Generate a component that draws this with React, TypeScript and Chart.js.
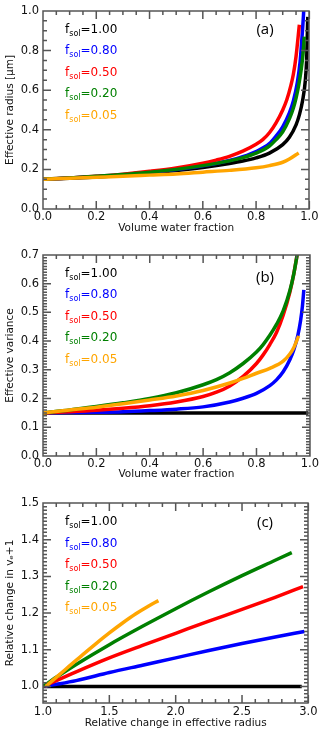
import React, { useEffect, useRef } from "react";
import { Chart, registerables } from "chart.js";

Chart.register(...registerables);

// ---------------- shared legend ----------------
const fsolLabels = ["1.00", "0.80", "0.50", "0.20", "0.05"];
const fsolColors = ["#000000", "#0000ff", "#ff0000", "#008000", "#ffa500"];

// ---------------- panel (a): effective radius vs volume water fraction ----------------
const aWater100 = [0, 0.1, 0.2, 0.3, 0.4, 0.5, 0.6, 0.7, 0.75, 0.8, 0.85, 0.9, 0.925, 0.95, 0.9625, 0.975, 0.985, 0.99, 0.994];
const aReff100 = [0.150, 0.155, 0.161, 0.170, 0.181, 0.194, 0.210, 0.230, 0.242, 0.258, 0.282, 0.325, 0.362, 0.425, 0.475, 0.55, 0.65, 0.76, 0.97];
const aWater080 = [0, 0.1, 0.2, 0.3, 0.4, 0.5, 0.6, 0.7, 0.75, 0.8, 0.85, 0.875, 0.9, 0.925, 0.94, 0.955, 0.965, 0.972, 0.978, 0.981];
const aReff080 = [0.150, 0.156, 0.164, 0.173, 0.185, 0.199, 0.218, 0.245, 0.264, 0.290, 0.330, 0.368, 0.415, 0.485, 0.545, 0.64, 0.74, 0.86, 0.98, 1.06];
const aWater050 = [0, 0.1, 0.2, 0.3, 0.4, 0.5, 0.6, 0.65, 0.7, 0.75, 0.8, 0.825, 0.85, 0.875, 0.9, 0.915, 0.93, 0.94, 0.95, 0.9625];
const aReff050 = [0.150, 0.157, 0.165, 0.176, 0.190, 0.207, 0.231, 0.247, 0.266, 0.292, 0.327, 0.350, 0.385, 0.435, 0.500, 0.550, 0.620, 0.680, 0.770, 0.930];
const aWater020 = [0, 0.1, 0.2, 0.3, 0.4, 0.5, 0.6, 0.7, 0.75, 0.8, 0.85, 0.875, 0.9, 0.925, 0.94, 0.95, 0.96, 0.97, 0.976, 0.981];
const aReff020 = [0.150, 0.157, 0.165, 0.174, 0.186, 0.200, 0.219, 0.243, 0.259, 0.282, 0.318, 0.350, 0.390, 0.455, 0.510, 0.560, 0.625, 0.710, 0.780, 0.870];
const aWater005 = [0, 0.1, 0.2, 0.3, 0.4, 0.5, 0.6, 0.7, 0.8, 0.85, 0.9, 0.925, 0.96];
const aReff005 = [0.150, 0.155, 0.160, 0.165, 0.171, 0.177, 0.186, 0.195, 0.208, 0.219, 0.236, 0.252, 0.283];
const aXTicks = [0, 0.2, 0.4, 0.6, 0.8, 1.0];
const aYTicks = [0, 0.2, 0.4, 0.6, 0.8, 1.0];

// ---------------- panel (b): effective variance vs volume water fraction ----------------
const bWater100 = [0, 0.25, 0.5, 0.75, 0.995];
const bVar100 = [0.15, 0.15, 0.15, 0.15, 0.15];
const bWater080 = [0, 0.1, 0.2, 0.3, 0.4, 0.5, 0.6, 0.7, 0.75, 0.8, 0.85, 0.875, 0.9, 0.925, 0.94, 0.955, 0.965, 0.972, 0.9775];
const bVar080 = [0.150, 0.151, 0.152, 0.154, 0.158, 0.163, 0.171, 0.188, 0.201, 0.218, 0.245, 0.265, 0.293, 0.335, 0.370, 0.420, 0.470, 0.520, 0.578];
const bWater050 = [0, 0.1, 0.2, 0.3, 0.4, 0.5, 0.6, 0.65, 0.7, 0.75, 0.8, 0.825, 0.85, 0.875, 0.9, 0.925, 0.94, 0.955];
const bVar050 = [0.150, 0.154, 0.159, 0.166, 0.175, 0.188, 0.207, 0.222, 0.244, 0.277, 0.322, 0.352, 0.388, 0.430, 0.490, 0.570, 0.635, 0.715];
const bWater020 = [0, 0.1, 0.2, 0.3, 0.4, 0.5, 0.6, 0.65, 0.7, 0.75, 0.8, 0.825, 0.85, 0.875, 0.9, 0.925, 0.94, 0.955];
const bVar020 = [0.150, 0.160, 0.172, 0.185, 0.200, 0.220, 0.248, 0.266, 0.290, 0.322, 0.362, 0.388, 0.420, 0.458, 0.505, 0.575, 0.635, 0.715];
const bWater005 = [0, 0.1, 0.2, 0.3, 0.4, 0.5, 0.6, 0.7, 0.75, 0.8, 0.85, 0.9, 0.925, 0.94, 0.958];
const bVar005 = [0.150, 0.160, 0.170, 0.182, 0.195, 0.209, 0.228, 0.254, 0.270, 0.288, 0.305, 0.330, 0.355, 0.378, 0.418];
const bXTicks = [0, 0.2, 0.4, 0.6, 0.8, 1.0];
const bYTicks = [0, 0.1, 0.2, 0.3, 0.4, 0.5, 0.6, 0.7];

// ---------------- panel (c): relative change in ve+1 vs relative change in reff ----------------
const cRad100 = [1.0, 2.0, 2.95];
const cVe100 = [1.0, 1.0, 1.0];
const cRad080 = [1.0, 1.1, 1.25, 1.5, 1.75, 2.0, 2.25, 2.5, 2.75, 2.97];
const cVe080 = [1.0, 1.006, 1.016, 1.038, 1.058, 1.078, 1.098, 1.117, 1.135, 1.150];
const cRad050 = [1.0, 1.25, 1.5, 1.75, 2.0, 2.25, 2.5, 2.75, 2.96];
const cVe050 = [1.0, 1.040, 1.078, 1.112, 1.145, 1.178, 1.210, 1.243, 1.272];
const cRad020 = [1.0, 1.1, 1.25, 1.5, 1.75, 2.0, 2.25, 2.5, 2.75, 2.875];
const cVe020 = [1.0, 1.025, 1.060, 1.114, 1.164, 1.212, 1.258, 1.302, 1.344, 1.365];
const cRad005 = [1.02, 1.1, 1.2, 1.3, 1.4, 1.5, 1.6, 1.7, 1.8, 1.87];
const cVe005 = [1.0, 1.025, 1.056, 1.087, 1.117, 1.146, 1.173, 1.198, 1.220, 1.234];
const cXTicks = [1.0, 1.5, 2.0, 2.5, 3.0];
const cYTicks = [1.0, 1.1, 1.2, 1.3, 1.4, 1.5];

type PanelCfg = {
  xs: number[][];
  ys: number[][];
  xMin: number; xMax: number; yMin: number; yMax: number;
  xTicks: number[]; yTicks: number[];
  xMinor: number; yMinor: number;
  xTitle: string; yTitle: string; tag: string;
  plotTop: number; plotBottom: number;
  xTitlePad: number; xTickPad: number; tagY: number;
};

const panels: PanelCfg[] = [
  {
    xs: [aWater100, aWater080, aWater050, aWater020, aWater005],
    ys: [aReff100, aReff080, aReff050, aReff020, aReff005],
    xMin: 0, xMax: 1, yMin: 0, yMax: 1,
    xTicks: aXTicks, yTicks: aYTicks, xMinor: 0.05, yMinor: 0.05,
    xTitle: "Volume water fraction", yTitle: "Effective radius [μm]", tag: "(a)",
    plotTop: 7, plotBottom: 209, xTitlePad: 9.5, xTickPad: 1.5, tagY: 30,
  },
  {
    xs: [bWater100, bWater080, bWater050, bWater020, bWater005],
    ys: [bVar100, bVar080, bVar050, bVar020, bVar005],
    xMin: 0, xMax: 1, yMin: 0, yMax: 0.7,
    xTicks: bXTicks, yTicks: bYTicks, xMinor: 0.05, yMinor: 0.01,
    xTitle: "Volume water fraction", yTitle: "Effective variance", tag: "(b)",
    plotTop: 10, plotBottom: 212, xTitlePad: 7.5, xTickPad: 1, tagY: 34,
  },
  {
    xs: [cRad100, cRad080, cRad050, cRad020, cRad005],
    ys: [cVe100, cVe080, cVe050, cVe020, cVe005],
    xMin: 1, xMax: 3, yMin: 0.955, yMax: 1.5,
    xTicks: cXTicks, yTicks: cYTicks, xMinor: 0.1, yMinor: 0.01,
    xTitle: "Relative change in effective radius", yTitle: "Relative change in vₑ+1", tag: "(c)",
    plotTop: 15, plotBottom: 215, xTitlePad: 2.5, xTickPad: 2.5, tagY: 34.5,
  },
];

const W = 320;
const H = 244;
const PLOT_LEFT = 43;
const PLOT_RIGHT = 310;
const FRAME = "#555555";

function stepValues(min: number, max: number, step: number): number[] {
  const out: number[] = [];
  const k0 = Math.ceil(min / step - 1e-6);
  const k1 = Math.floor(max / step + 1e-6);
  for (let k = k0; k <= k1; k++) out.push(k * step);
  return out;
}

function isMajor(v: number, list: number[]): boolean {
  for (let i = 0; i < list.length; i++) {
    if (Math.abs(list[i] - v) < 1e-6) return true;
  }
  return false;
}

function drawFrameAndTicks(chart: any, cfg: PanelCfg) {
  const ctx: CanvasRenderingContext2D = chart.ctx;
  const area = chart.chartArea;
  const L = Math.round(area.left);
  const R = Math.round(area.right);
  const T = Math.round(area.top);
  const B = Math.round(area.bottom);
  const xScale = chart.scales.x;
  const yScale = chart.scales.y;
  ctx.save();
  ctx.setLineDash([]);
  ctx.globalAlpha = 1;
  ctx.globalCompositeOperation = "source-over";
  ctx.strokeStyle = FRAME;
  ctx.lineWidth = 1.5;
  ctx.lineCap = "butt";
  ctx.beginPath();
  ctx.moveTo(L, T);
  ctx.lineTo(R, T);
  ctx.lineTo(R, B);
  ctx.lineTo(L, B);
  ctx.closePath();
  const xv = stepValues(cfg.xMin, cfg.xMax, cfg.xMinor);
  for (const v of xv) {
    const len = isMajor(v, cfg.xTicks) ? 8 : 4;
    const x = xScale.getPixelForValue(v);
    ctx.moveTo(x, B);
    ctx.lineTo(x, B - len);
    ctx.moveTo(x, T);
    ctx.lineTo(x, T + len);
  }
  const yv = stepValues(cfg.yMin, cfg.yMax, cfg.yMinor);
  for (const v of yv) {
    const len = isMajor(v, cfg.yTicks) ? 8 : 4;
    const y = yScale.getPixelForValue(v);
    ctx.moveTo(L, y);
    ctx.lineTo(L + len, y);
    ctx.moveTo(R, y);
    ctx.lineTo(R - len, y);
  }
  ctx.stroke();
  ctx.restore();
}

function drawLegendAndTag(chart: any, cfg: PanelCfg) {
  const ctx: CanvasRenderingContext2D = chart.ctx;
  const area = chart.chartArea;
  ctx.save();
  ctx.textBaseline = "alphabetic";
  ctx.textAlign = "left";
  for (let i = 0; i < fsolLabels.length; i++) {
    const yb = area.top + 22 + i * 21.5;
    let x0 = 65;
    ctx.fillStyle = fsolColors[i];
    ctx.font = '12px "DejaVu Sans"';
    ctx.fillText("f", x0, yb);
    x0 += ctx.measureText("f").width;
    ctx.font = '8px "DejaVu Sans"';
    ctx.fillText("sol", x0, yb + 3);
    x0 += ctx.measureText("sol").width;
    ctx.font = '12px "DejaVu Sans"';
    ctx.fillText("=" + fsolLabels[i], x0, yb);
  }
  ctx.fillStyle = "#000";
  ctx.font = '15px "Open Sans"';
  ctx.textAlign = "center";
  ctx.textBaseline = "middle";
  ctx.fillText(cfg.tag, 265, cfg.tagY);
  ctx.restore();
}

function makeDecorPlugin(cfg: PanelCfg) {
  return {
    id: "decor",
    afterDatasetsDraw(chart: any) {
      drawFrameAndTicks(chart, cfg);
    },
    afterDraw(chart: any) {
      drawLegendAndTag(chart, cfg);
    },
  };
}

function Panel({ cfg }: { cfg: PanelCfg }) {
  const ref = useRef<HTMLCanvasElement | null>(null);
  useEffect(() => {
    if (!ref.current) return;
    const order = [5, 4, 3, 2, 1];
    const datasets = cfg.xs.map((xv, i) => ({
      label: fsolLabels[i],
      data: xv.map((x, j) => ({ x, y: cfg.ys[i][j] })),
      borderColor: fsolColors[i],
      backgroundColor: fsolColors[i],
      borderWidth: 3.5,
      pointRadius: 0,
      fill: false,
      cubicInterpolationMode: "monotone" as const,
      order: order[i],
    }));
    const tickFont = { family: "DejaVu Sans", size: 11.5 };
    const titleFont = { family: "DejaVu Sans", size: 10.5 };
    const chart = new Chart(ref.current, {
      type: "line",
      data: { datasets },
      plugins: [makeDecorPlugin(cfg)],
      options: {
        animation: false,
        responsive: false,
        devicePixelRatio: 1,
        layout: { padding: { left: 0, right: W - PLOT_RIGHT, top: cfg.plotTop, bottom: 0 } },
        plugins: { legend: { display: false }, tooltip: { enabled: false }, title: { display: false } },
        scales: {
          x: {
            type: "linear",
            min: cfg.xMin,
            max: cfg.xMax,
            grid: { display: false, drawTicks: false },
            border: { display: false },
            afterBuildTicks: (s: any) => { s.ticks = cfg.xTicks.map((v) => ({ value: v })); },
            afterFit: (s: any) => { s.height = H - cfg.plotBottom; },
            ticks: {
              padding: cfg.xTickPad,
              color: "#111",
              font: tickFont,
              maxRotation: 0,
              autoSkip: false,
              callback: (v: any) => Number(v).toFixed(1),
            },
            title: {
              display: true,
              text: cfg.xTitle,
              color: "#111",
              font: titleFont,
              padding: { top: 0, bottom: cfg.xTitlePad },
            },
          },
          y: {
            type: "linear",
            min: cfg.yMin,
            max: cfg.yMax,
            grid: { display: false, drawTicks: false },
            border: { display: false },
            afterBuildTicks: (s: any) => { s.ticks = cfg.yTicks.map((v) => ({ value: v })); },
            afterFit: (s: any) => { s.width = PLOT_LEFT; },
            ticks: {
              padding: 4,
              color: "#111",
              font: tickFont,
              autoSkip: false,
              callback: (v: any) => Number(v).toFixed(1),
            },
            title: {
              display: true,
              text: cfg.yTitle,
              color: "#111",
              font: titleFont,
              padding: { top: 4, bottom: 0 },
            },
          },
        },
      },
    } as any);
    return () => chart.destroy();
  }, [cfg]);
  return <canvas ref={ref} width={W} height={H} style={{ display: "block", width: W, height: H }} />;
}

export default function App() {
  return (
    <div style={{ position: "absolute", left: 0, top: 0, width: W, height: H * 3, background: "#fff" }}>
      {panels.map((p, i) => (
        <Panel key={i} cfg={p} />
      ))}
    </div>
  );
}
